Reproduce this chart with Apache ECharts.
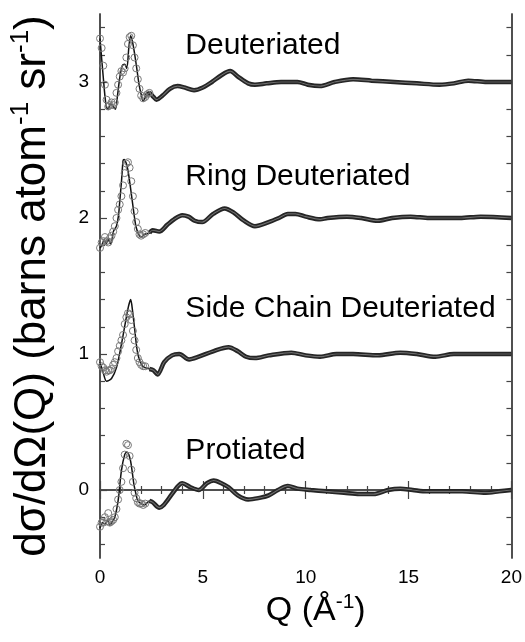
<!DOCTYPE html>
<html lang="en">
<head>
<meta charset="utf-8">
<title>S(Q) curves</title>
<script src="https://cdn.jsdelivr.net/npm/echarts@6/dist/echarts.min.js"></script>
<style>
  html, body { margin: 0; padding: 0; background: #fff; }
  #chart { width: 525px; height: 642px; }
</style>
</head>
<body>
<div id="chart"></div>
<script>
// curve names, vertical offsets and label heights
var curveNames = ['Deuteriated', 'Ring Deuteriated', 'Side Chain Deuteriated', 'Protiated'];
var offsets = [3, 2, 1, 0];
var labelY = [3.27, 2.30, 1.33, 0.29];
var labelQ = 4.15;

// fits: [Q, value relative to offset]
var deutFit = [[0,0.32],[0.15,0.05],[0.3,-0.18],[0.4,-0.2],[0.5,-0.16],[0.6,-0.17],[0.75,-0.2],[0.85,-0.1],[0.96,0.03],[1.08,0.12],[1.2,0.13],[1.3,0.1],[1.4,0.25],[1.49,0.34],[1.6,0.28],[1.76,0.13],[1.9,-0.02],[2.0,-0.09],[2.1,-0.14],[2.25,-0.1],[2.4,-0.08],[2.6,-0.11],[2.75,-0.13],[3.04,-0.1],[3.4,-0.05],[3.77,-0.03],[4.1,-0.04],[4.57,-0.06],[5.0,-0.04],[5.44,0.0],[5.9,0.05],[6.33,0.08],[6.7,0.04],[7.2,-0.01],[7.53,-0.02],[8.1,-0.01],[8.8,0.0],[9.6,0.0],[10.1,-0.02],[10.7,-0.03],[11.4,0.0],[12.3,0.02],[13.2,0.01],[14.3,0.0],[15.4,-0.01],[16.5,-0.02],[17.2,-0.01],[17.9,0.01],[18.8,0.0],[20,0.0]];
var ringFit = [[0,-0.22],[0.1,-0.2],[0.2,-0.16],[0.3,-0.19],[0.4,-0.15],[0.5,-0.19],[0.56,-0.18],[0.65,-0.1],[0.72,-0.08],[0.8,-0.06],[0.9,0.02],[0.96,0.12],[1.05,0.28],[1.12,0.42],[1.17,0.43],[1.28,0.4],[1.36,0.35],[1.44,0.27],[1.52,0.18],[1.6,0.09],[1.68,0.0],[1.76,-0.07],[1.88,-0.12],[2.0,-0.14],[2.16,-0.12],[2.4,-0.11],[2.56,-0.09],[2.88,-0.1],[3.27,-0.05],[3.6,-0.01],[4.0,0.02],[4.3,0.01],[4.6,-0.02],[4.97,-0.03],[5.5,0.03],[6.06,0.07],[6.5,0.04],[7.0,-0.02],[7.53,-0.06],[8.2,-0.03],[8.7,0.0],[9.13,0.03],[9.5,0.03],[10.0,0.01],[10.7,-0.01],[11.06,0.0],[12.0,0.01],[12.7,0.0],[13.5,-0.02],[14.2,0.0],[15.1,0.01],[16.0,0.0],[17.5,0.0],[18.5,0.01],[20,0.0]];
var sideFit = [[0,-0.06],[0.16,-0.14],[0.32,-0.2],[0.56,-0.18],[0.8,-0.1],[1.04,0.07],[1.28,0.27],[1.4,0.36],[1.49,0.4],[1.58,0.32],[1.68,0.19],[1.84,0.0],[2.08,-0.09],[2.4,-0.11],[2.6,-0.12],[2.8,-0.15],[3.12,-0.06],[3.5,-0.01],[3.85,0.0],[4.33,-0.04],[4.8,-0.02],[5.5,0.02],[6.25,0.05],[6.7,0.02],[7.1,-0.02],[7.53,-0.03],[8.2,-0.01],[9.3,0.01],[10.0,-0.01],[10.7,-0.02],[11.5,0.0],[12.3,0.0],[13.5,-0.01],[14.6,0.01],[15.4,0.0],[16.3,-0.02],[17.2,0.0],[18.3,0.0],[20,0.0]];
var protFit = [[0,-0.28],[0.12,-0.24],[0.24,-0.25],[0.36,-0.22],[0.48,-0.26],[0.6,-0.23],[0.72,-0.2],[0.88,-0.08],[1.04,0.14],[1.2,0.26],[1.31,0.28],[1.4,0.26],[1.49,0.21],[1.57,0.13],[1.65,0.04],[1.75,-0.03],[1.84,-0.08],[2.0,-0.1],[2.16,-0.11],[2.4,-0.08],[2.56,-0.09],[2.88,-0.13],[3.1,-0.11],[3.45,-0.04],[3.8,0.03],[4.0,0.05],[4.4,0.02],[4.8,0.0],[5.2,0.05],[5.53,0.07],[5.9,0.05],[6.25,0.02],[6.7,-0.04],[7.2,-0.07],[7.7,-0.06],[8.2,-0.04],[8.65,0.0],[9.13,0.03],[9.6,0.01],[10.25,0.0],[11.0,-0.01],[11.86,-0.02],[12.6,-0.03],[13.3,-0.03],[14.0,0.0],[14.6,0.01],[15.2,0.0],[15.9,-0.01],[16.8,-0.01],[17.6,-0.01],[18.75,-0.02],[19.4,-0.01],[20,0.0]];

// measured points at low Q (open circles)
var deutData = [[0,0.32],[0.08,0.25],[0.16,0.12],[0.24,-0.02],[0.32,-0.13],[0.4,-0.18],[0.48,-0.17],[0.56,-0.15],[0.64,-0.17],[0.72,-0.15],[0.8,-0.08],[0.88,-0.02],[0.96,0.04],[1.04,0.08],[1.12,0.07],[1.2,0.1],[1.28,0.18],[1.36,0.28],[1.44,0.33],[1.52,0.34],[1.6,0.27],[1.68,0.18],[1.76,0.1],[1.84,0.02],[1.92,-0.05],[2.0,-0.1],[2.1,-0.12],[2.2,-0.11],[2.3,-0.09],[2.4,-0.08]];
var ringData = [[0,-0.22],[0.08,-0.18],[0.16,-0.17],[0.24,-0.14],[0.32,-0.17],[0.4,-0.18],[0.48,-0.15],[0.56,-0.13],[0.64,-0.1],[0.72,-0.06],[0.8,0.0],[0.88,0.06],[0.96,0.1],[1.04,0.16],[1.12,0.24],[1.2,0.33],[1.28,0.4],[1.36,0.41],[1.44,0.37],[1.52,0.27],[1.6,0.16],[1.68,0.05],[1.76,-0.03],[1.84,-0.08],[1.92,-0.12],[2.0,-0.13],[2.1,-0.12],[2.2,-0.11]];
var sideData = [[0,-0.06],[0.08,-0.09],[0.16,-0.1],[0.24,-0.12],[0.32,-0.13],[0.4,-0.12],[0.48,-0.12],[0.56,-0.11],[0.64,-0.08],[0.72,-0.06],[0.8,-0.03],[0.88,0.02],[0.96,0.06],[1.04,0.1],[1.12,0.14],[1.2,0.22],[1.28,0.27],[1.36,0.3],[1.44,0.29],[1.52,0.25],[1.6,0.17],[1.68,0.1],[1.76,0.03],[1.84,-0.03],[1.92,-0.06],[2.0,-0.08],[2.1,-0.09],[2.2,-0.09]];
var protData = [[0,-0.27],[0.08,-0.24],[0.16,-0.24],[0.24,-0.2],[0.32,-0.23],[0.4,-0.17],[0.48,-0.24],[0.56,-0.23],[0.64,-0.22],[0.72,-0.2],[0.8,-0.14],[0.88,-0.07],[0.96,0.0],[1.04,0.06],[1.12,0.16],[1.2,0.26],[1.28,0.34],[1.36,0.33],[1.44,0.25],[1.52,0.15],[1.6,0.06],[1.68,-0.02],[1.76,-0.06],[1.84,-0.09],[1.92,-0.1],[2.0,-0.1],[2.1,-0.11],[2.2,-0.1]];

var yMajor = [0, 1, 2, 3];
var yMinor = [-0.4,-0.2,0.2,0.4,0.6,0.8,1.2,1.4,1.6,1.8,2.2,2.4,2.6,2.8,3.2,3.4];

var fits = [deutFit, ringFit, sideFit, protFit];
var points = [deutData, ringData, sideData, protData];
var font = 'Liberation Sans, Arial, Helvetica, sans-serif';
var frame = '#444';

function shift(arr, off) {
  return arr.map(function (p) { return [p[0], p[1] + off]; });
}

var series = [];
fits.forEach(function (fit, i) {
  var off = offsets[i];
  var tail = shift(fit.filter(function (p) { return p[0] >= 2.2; }), off);
  // thick band where the dense data overlap the fit
  series.push({
    type: 'line', name: curveNames[i] + ' band', smooth: 0.3, symbol: 'none', silent: true,
    data: tail, lineStyle: { color: '#262626', width: 4.5 }, z: 2
  });
  series.push({
    type: 'line', name: curveNames[i] + ' fit', smooth: 0.3, symbol: 'none', silent: true,
    data: shift(fit, off), lineStyle: { color: '#111', width: 1.5 }, z: 3
  });
  series.push({
    type: 'line', name: curveNames[i] + ' core', smooth: 0.3, symbol: 'none', silent: true,
    data: tail, lineStyle: { color: '#6e6e6e', width: 1.2 }, z: 4
  });
  series.push({
    type: 'scatter', name: curveNames[i] + ' data', symbol: 'circle', symbolSize: 7, silent: true,
    data: shift(points[i], off),
    itemStyle: { color: 'rgba(255,255,255,0)', borderColor: '#7a7a7a', borderWidth: 1, opacity: 1 }, z: 5
  });
});

// text labels
series.push({
  type: 'scatter', symbolSize: 0, silent: true, z: 6,
  itemStyle: { opacity: 1 },
  data: curveNames.map(function (n, i) { return [labelQ, labelY[i], n]; }),
  label: {
    show: true, position: 'right', distance: 0,
    formatter: function (p) { return p.value[2]; },
    fontFamily: font, fontSize: 30, color: '#000', textBorderWidth: 0
  }
});

var yBase = {
  type: 'value', min: -0.5, max: 3.5, splitLine: { show: false },
  axisLine: { show: true, lineStyle: { color: frame, width: 1.5 } }
};

var option = {
  animation: false,
  backgroundColor: '#fff',
  grid: { left: 100, right: 9, top: 14, bottom: 84, containLabel: false },
  xAxis: [
    {
      type: 'value', min: 0, max: 20, interval: 5, position: 'bottom',
      name: 'Q (Å{sup|-1})', nameLocation: 'middle', nameGap: 29,
      nameTextStyle: {
        fontFamily: font, fontSize: 34, color: '#000', lineHeight: 38, padding: [0, 0, 0, 20],
        rich: { sup: { fontFamily: font, fontSize: 21, lineHeight: 22, verticalAlign: 'top', color: '#000' } }
      },
      axisLine: { show: true, lineStyle: { color: frame, width: 1.5 } },
      axisTick: { show: true, inside: true, length: 9, lineStyle: { color: frame, width: 1.2 } },
      minorTick: { show: true, splitNumber: 5, length: 4, lineStyle: { color: frame, width: 1.2 } },
      axisLabel: { fontFamily: font, fontSize: 19, color: '#000', margin: 10 },
      splitLine: { show: false }, minorSplitLine: { show: false }
    },
    {
      type: 'value', min: 0, max: 20, interval: 5, position: 'top',
      axisLine: { show: true, lineStyle: { color: frame, width: 1.5 } },
      axisTick: { show: true, inside: true, length: 9, lineStyle: { color: frame, width: 1.2 } },
      minorTick: { show: true, splitNumber: 5, length: 4, lineStyle: { color: frame, width: 1.2 } },
      axisLabel: { show: false }, splitLine: { show: false }
    }
  ],
  yAxis: [
    Object.assign({}, yBase, {
      position: 'left',
      name: 'dσ/dΩ(Q) (barns atom{sup|-1} sr{sup|-1})', nameLocation: 'middle', nameGap: 42,
      nameTextStyle: {
        fontFamily: font, fontSize: 44, color: '#000', lineHeight: 50,
        rich: { sup: { fontFamily: font, fontSize: 26, lineHeight: 26, verticalAlign: 'top', color: '#000' } }
      },
      axisTick: { show: true, inside: true, length: 7, customValues: yMajor, lineStyle: { color: frame, width: 1.2 } },
      axisLabel: { show: true, customValues: yMajor, fontFamily: font, fontSize: 19, color: '#000', margin: 11 }
    }),
    Object.assign({}, yBase, {
      position: 'left',
      axisTick: { show: true, inside: true, length: 5, customValues: yMinor, lineStyle: { color: frame, width: 1.2 } },
      axisLabel: { show: false }
    }),
    Object.assign({}, yBase, {
      position: 'right',
      axisTick: { show: true, inside: true, length: 7, customValues: yMajor, lineStyle: { color: frame, width: 1.2 } },
      axisLabel: { show: false }
    }),
    Object.assign({}, yBase, {
      position: 'right',
      axisTick: { show: true, inside: true, length: 5, customValues: yMinor, lineStyle: { color: frame, width: 1.2 } },
      axisLabel: { show: false }
    })
  ],
  series: series
};

var chart = echarts.init(document.getElementById('chart'), null, { renderer: 'canvas' });
chart.setOption(option);
</script>
</body>
</html>
